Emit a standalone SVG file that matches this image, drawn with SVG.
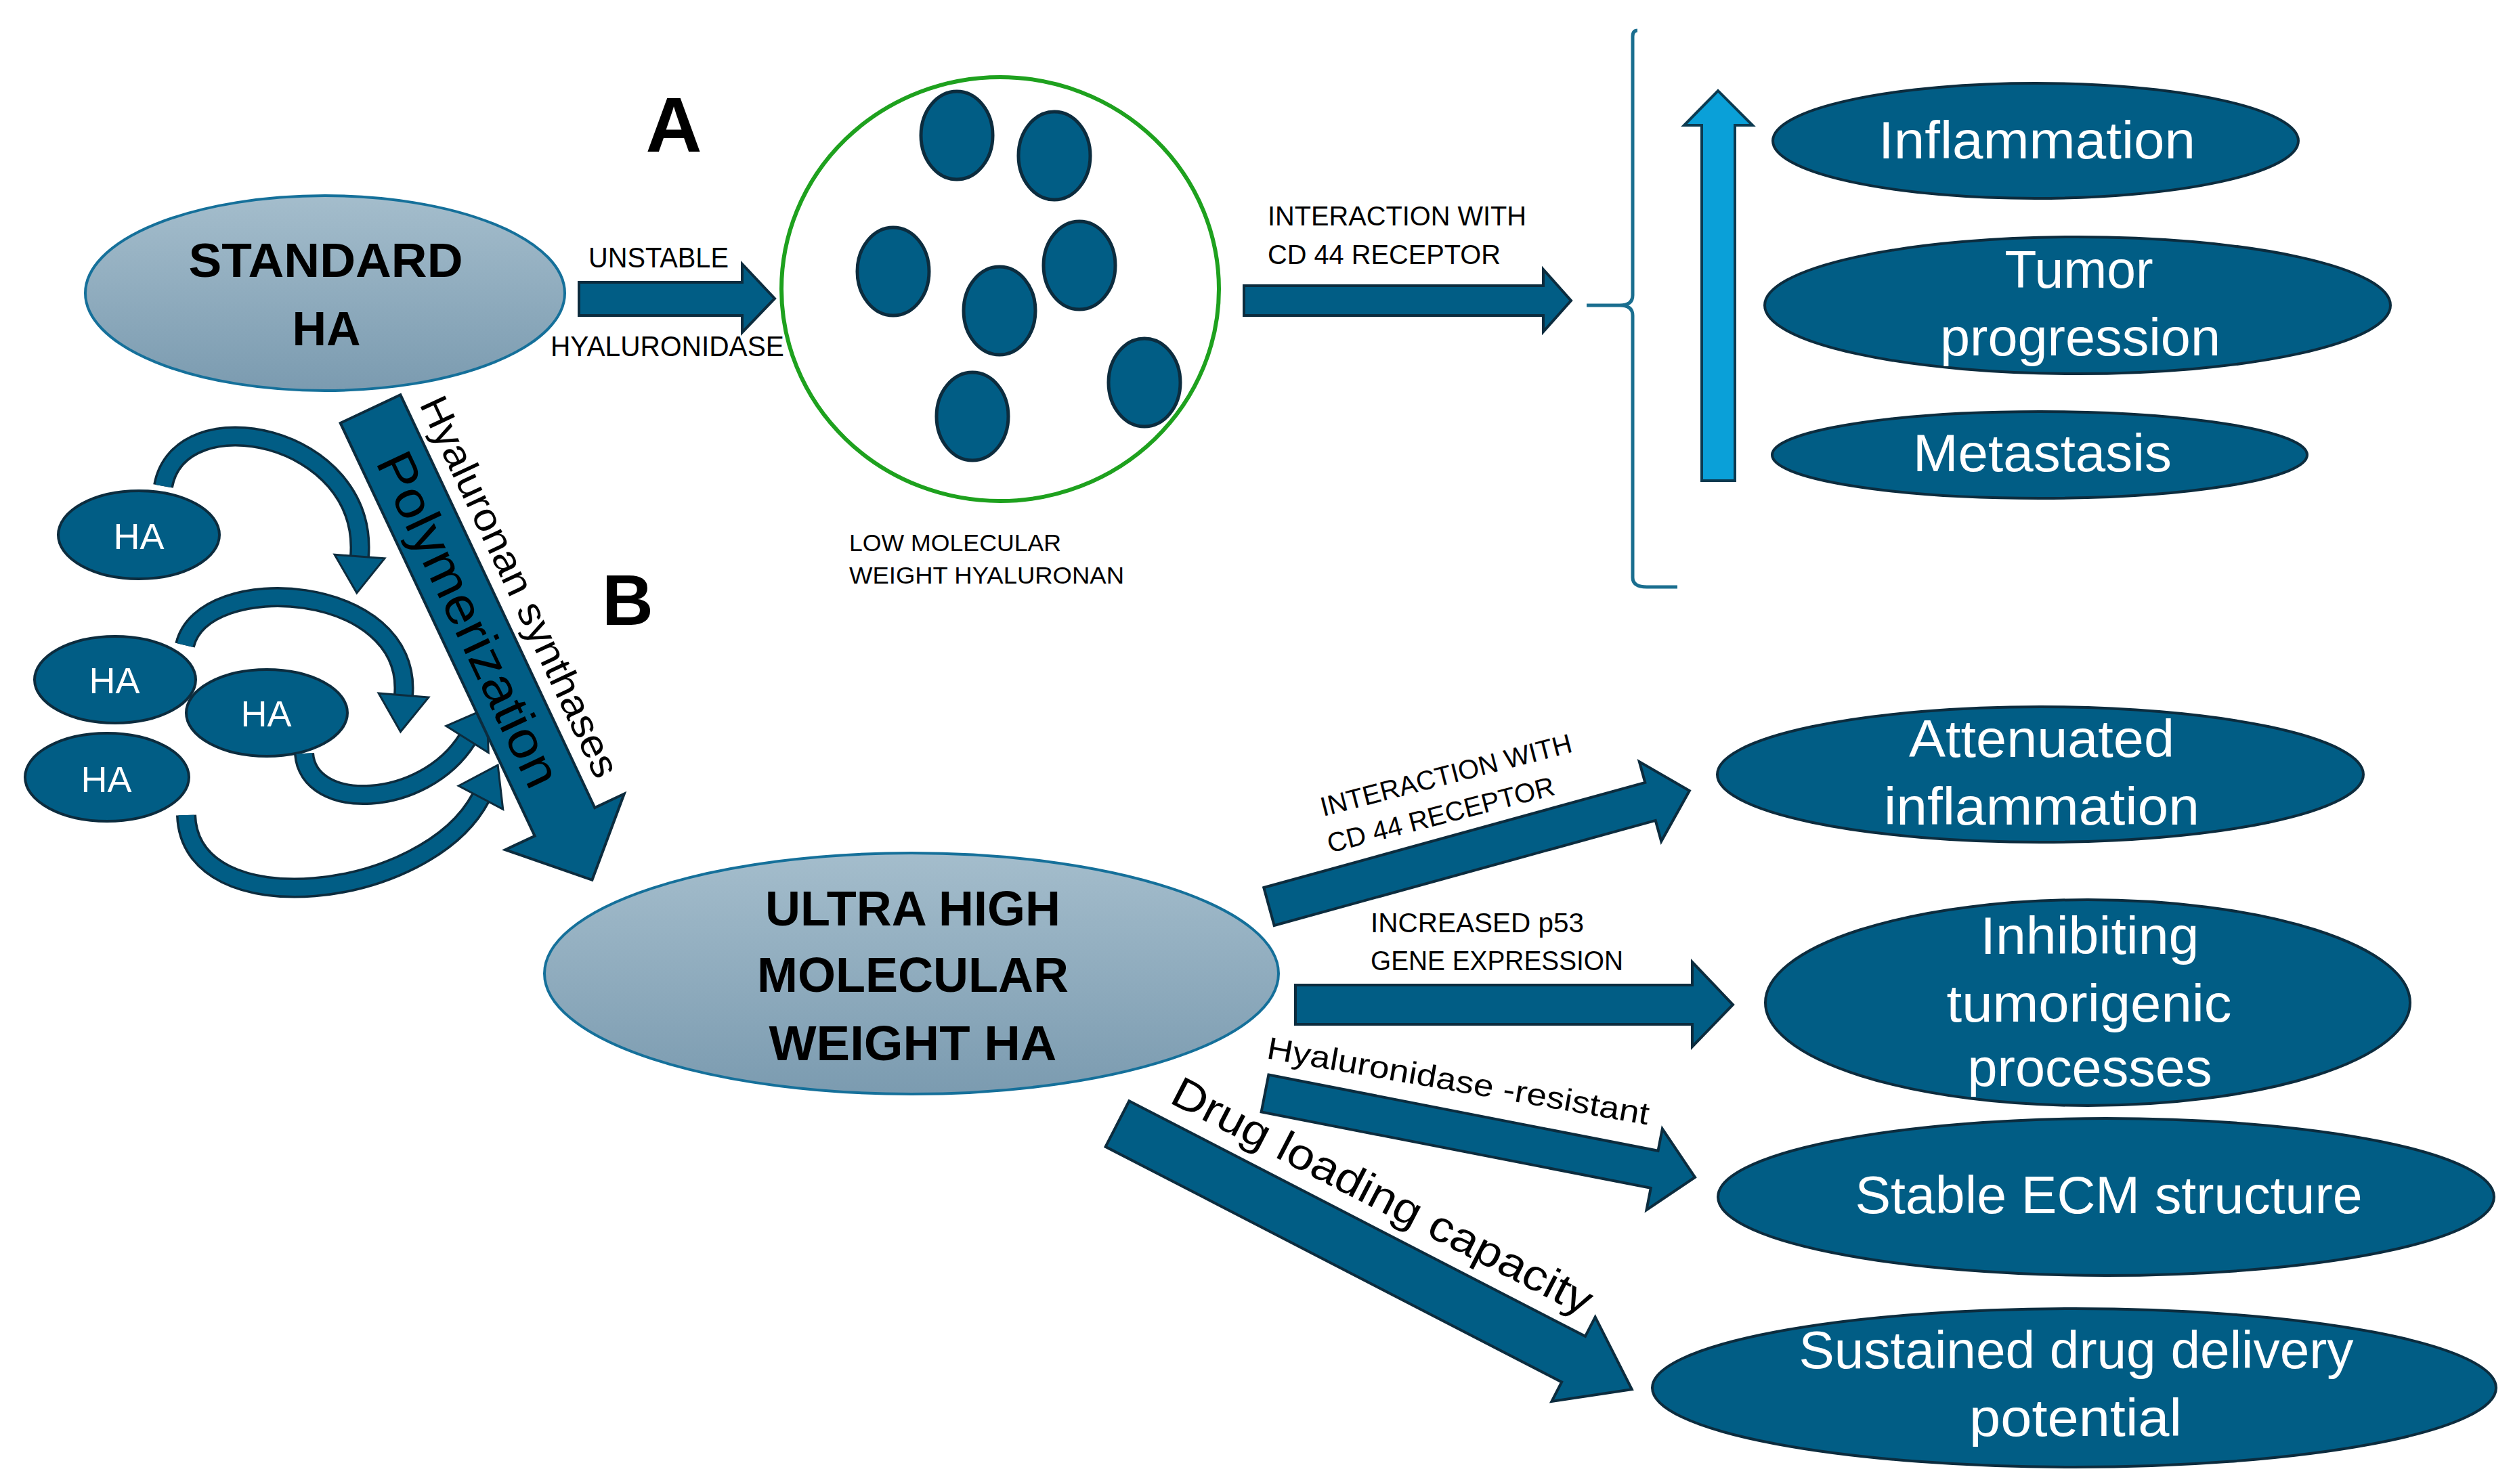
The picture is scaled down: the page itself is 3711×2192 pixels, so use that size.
<svg xmlns="http://www.w3.org/2000/svg" width="3711" height="2192" viewBox="0 0 3711 2192">
<style>
.dk{fill:#015d85;stroke:#0c2c3e;stroke-width:4}
.lt{fill:url(#gl);stroke:#15709a;stroke-width:4}
.wt{fill:#fff;font-family:"Liberation Sans",Arial,sans-serif;font-size:78px;text-anchor:middle}
.ha{fill:#fff;font-family:"Liberation Sans",Arial,sans-serif;font-size:54px;text-anchor:middle}
.bk{fill:#000;font-family:"Liberation Sans",Arial,sans-serif}
.bd{font-weight:bold}
.sm{font-size:40px}
.arr{fill:#015d85;stroke:#0c2c3e;stroke-width:4;stroke-linejoin:miter}
.cv{fill:none;stroke:#015d85;stroke-width:23}
.cvo{fill:none;stroke:#0c2c3e;stroke-width:30}
.dot{fill:#015d85;stroke:#0c2c3e;stroke-width:5}
</style>
<defs>
<linearGradient id="gl" x1="0" y1="0" x2="0" y2="1">
<stop offset="0" stop-color="#a4bdcc"/>
<stop offset="1" stop-color="#7b9bb0"/>
</linearGradient>
<marker id="mh" markerUnits="userSpaceOnUse" viewBox="-4 -42 64 84" refX="0" refY="0" markerWidth="64" markerHeight="84" orient="auto" overflow="visible">
<path d="M0,-37 L54,0 L0,37 Z" fill="#015d85" stroke="#0c2c3e" stroke-width="3"/>
</marker>
</defs>
<rect width="3711" height="2192" fill="#fff"/>

<text class="bk bd" x="995" y="224" font-size="115" text-anchor="middle">A</text>
<text class="bk bd" x="927" y="923" font-size="105" text-anchor="middle">B</text>

<g id="standard-ha">
<ellipse class="lt" cx="480" cy="433" rx="354" ry="144"/>
<text class="bk bd" x="481" y="409" font-size="70" text-anchor="middle" textLength="405" lengthAdjust="spacingAndGlyphs">STANDARD</text>
<text class="bk bd" x="482" y="510" font-size="70" text-anchor="middle">HA</text>
</g>

<g id="lmw-hyaluronan">
<ellipse cx="1477" cy="427" rx="323" ry="313" fill="none" stroke="#1ea11e" stroke-width="6"/>
<ellipse class="dot" cx="1413" cy="200" rx="53" ry="65"/>
<ellipse class="dot" cx="1557" cy="230" rx="53" ry="65"/>
<ellipse class="dot" cx="1319" cy="401" rx="53" ry="65"/>
<ellipse class="dot" cx="1594" cy="392" rx="53" ry="65"/>
<ellipse class="dot" cx="1476" cy="459" rx="53" ry="65"/>
<ellipse class="dot" cx="1690" cy="565" rx="53" ry="65"/>
<ellipse class="dot" cx="1436" cy="615" rx="53" ry="65"/>
<text class="bk" x="1254" y="814" font-size="35" textLength="313" lengthAdjust="spacingAndGlyphs">LOW MOLECULAR</text>
<text class="bk" x="1254" y="862" font-size="35" textLength="406" lengthAdjust="spacingAndGlyphs">WEIGHT HYALURONAN</text>
</g>

<g id="inflammation">
<ellipse class="dk" cx="3006" cy="208" rx="388" ry="85"/>
<text class="wt" x="3008" y="234" textLength="468" lengthAdjust="spacingAndGlyphs">Inflammation</text>
</g>
<g id="tumor-progression">
<ellipse class="dk" cx="3068" cy="451" rx="462" ry="101"/>
<text class="wt" x="3070" y="425" textLength="219" lengthAdjust="spacingAndGlyphs">Tumor</text>
<text class="wt" x="3072" y="525" textLength="414" lengthAdjust="spacingAndGlyphs">progression</text>
</g>
<g id="metastasis">
<ellipse class="dk" cx="3012" cy="672" rx="395" ry="64"/>
<text class="wt" x="3016" y="696" textLength="382" lengthAdjust="spacingAndGlyphs">Metastasis</text>
</g>

<g id="ha-1">
<ellipse class="dk" cx="205" cy="790" rx="119" ry="65"/>
<text class="ha" x="205" y="811">HA</text>
</g>
<g id="ha-2">
<ellipse class="dk" cx="170" cy="1004" rx="119" ry="64"/>
<text class="ha" x="169" y="1024">HA</text>
</g>
<g id="ha-3">
<ellipse class="dk" cx="394" cy="1053" rx="119" ry="64"/>
<text class="ha" x="393" y="1073">HA</text>
</g>
<g id="ha-4">
<ellipse class="dk" cx="158" cy="1148" rx="121" ry="65"/>
<text class="ha" x="157" y="1170">HA</text>
</g>

<g id="uhmw-ha">
<ellipse class="lt" cx="1346" cy="1438" rx="542" ry="178"/>
<text class="bk bd" x="1348" y="1367" font-size="72" text-anchor="middle">ULTRA HIGH</text>
<text class="bk bd" x="1348" y="1465" font-size="72" text-anchor="middle">MOLECULAR</text>
<text class="bk bd" x="1348" y="1566" font-size="72" text-anchor="middle" textLength="425" lengthAdjust="spacingAndGlyphs">WEIGHT HA</text>
</g>

<g id="attenuated-inflammation">
<ellipse class="dk" cx="3013" cy="1144" rx="477" ry="100"/>
<text class="wt" x="3015" y="1118" textLength="392" lengthAdjust="spacingAndGlyphs">Attenuated</text>
<text class="wt" x="3015" y="1218" textLength="466" lengthAdjust="spacingAndGlyphs">inflammation</text>
</g>
<g id="inhibiting">
<ellipse class="dk" cx="3083" cy="1481" rx="476" ry="152"/>
<text class="wt" x="3086" y="1409" textLength="323" lengthAdjust="spacingAndGlyphs">Inhibiting</text>
<text class="wt" x="3085" y="1509" textLength="421" lengthAdjust="spacingAndGlyphs">tumorigenic</text>
<text class="wt" x="3086" y="1604" textLength="361" lengthAdjust="spacingAndGlyphs">processes</text>
</g>
<g id="stable-ecm">
<ellipse class="dk" cx="3110" cy="1768" rx="573" ry="116"/>
<text class="wt" x="3114" y="1792" textLength="749" lengthAdjust="spacingAndGlyphs">Stable ECM structure</text>
</g>
<g id="sustained">
<ellipse class="dk" cx="3063" cy="2050" rx="623" ry="117"/>
<text class="wt" x="3066" y="2021" textLength="819" lengthAdjust="spacingAndGlyphs">Sustained drug delivery</text>
<text class="wt" x="3065" y="2121" textLength="314" lengthAdjust="spacingAndGlyphs">potential</text>
</g>

<g id="connectors">
<polygon class="arr" points="855,417 1096,417 1096,390 1144,441 1096,491 1096,466 855,466"/>
<text class="bk" x="869" y="395" font-size="42" textLength="207" lengthAdjust="spacingAndGlyphs">UNSTABLE</text>
<text class="bk" x="813" y="526" font-size="42" textLength="345" lengthAdjust="spacingAndGlyphs">HYALURONIDASE</text>
<polygon class="arr" points="1837,422 2279,422 2279,398 2320,444 2279,490 2279,466 1837,466"/>
<text class="bk sm" x="1872" y="333" textLength="382" lengthAdjust="spacingAndGlyphs">INTERACTION WITH</text>
<text class="bk sm" x="1872" y="390" textLength="344" lengthAdjust="spacingAndGlyphs">CD 44 RECEPTOR</text>
<path d="M2418,45 Q2411,45 2411,54 L2411,436 Q2411,451 2392,451 L2343,451 M2392,451 Q2411,451 2411,466 L2411,853 Q2411,867 2432,867 L2477,867" fill="none" stroke="#1a6e8f" stroke-width="5"/>
<polygon points="2513,710 2513,185 2487,185 2537,134 2588,185 2562,185 2562,710" fill="#0aa0d8" stroke="#0c3a50" stroke-width="4"/>

<path class="cvo" d="M241,718 C265,585 545,640 531,822"/>
<path class="cv" d="M241,718 C265,585 545,640 531,822" marker-end="url(#mh)"/>
<path class="cvo" d="M273,953 C300,840 610,860 596,1027"/>
<path class="cv" d="M273,953 C300,840 610,860 596,1027" marker-end="url(#mh)"/>
<path class="cvo" d="M449,1113 C455,1200 625,1195 690,1092"/>
<path class="cv" d="M449,1113 C455,1200 625,1195 690,1092" marker-end="url(#mh)"/>
<path class="cvo" d="M275,1204 C280,1370 630,1330 710,1178"/>
<path class="cv" d="M275,1204 C280,1370 630,1330 710,1178" marker-end="url(#mh)"/>

<g transform="translate(547,604) rotate(64.8)">
<polygon class="arr" points="0,-49 674,-49 674,-97 769,0 674,97 674,49 0,49"/>
<text class="bk" x="343" y="27" font-size="76" text-anchor="middle" textLength="538" lengthAdjust="spacingAndGlyphs">Polymerization</text>
<text class="bk" x="24" y="-68" font-size="58" textLength="615" lengthAdjust="spacingAndGlyphs">Hyaluronan synthases</text>
</g>

<g transform="translate(1874,1339) rotate(-15.4)">
<polygon class="arr" points="0,-29 584,-29 584,-61 644,0 584,61 584,29 0,29"/>
</g>
<text class="bk sm" transform="translate(1954,1206) rotate(-14.5)" textLength="382" lengthAdjust="spacingAndGlyphs">INTERACTION WITH</text>
<text class="bk sm" transform="translate(1964,1260) rotate(-14.5)" textLength="345" lengthAdjust="spacingAndGlyphs">CD 44 RECEPTOR</text>

<polygon class="arr" points="1913,1455 2499,1455 2499,1421 2559,1484 2499,1546 2499,1513 1913,1513"/>
<text class="bk sm" x="2024" y="1377" textLength="315" lengthAdjust="spacingAndGlyphs">INCREASED p53</text>
<text class="bk sm" x="2024" y="1433" textLength="373" lengthAdjust="spacingAndGlyphs">GENE EXPRESSION</text>

<g transform="translate(1868,1615) rotate(11.05)">
<polygon class="arr" points="0,-28 586,-28 586,-61 647,0 586,61 586,28 0,28"/>
</g>
<text class="bk" transform="translate(1869,1563) rotate(9.9)" font-size="46" textLength="572" lengthAdjust="spacingAndGlyphs">Hyaluronidase -resistant</text>

<g transform="translate(1650,1660) rotate(27.3)">
<polygon class="arr" points="0,-38 758,-38 758,-70 855,0 758,70 758,38 0,38"/>
<text class="bk" x="52" y="-63" font-size="64" textLength="690" lengthAdjust="spacingAndGlyphs">Drug loading capacity</text>
</g>
</g>
</svg>
